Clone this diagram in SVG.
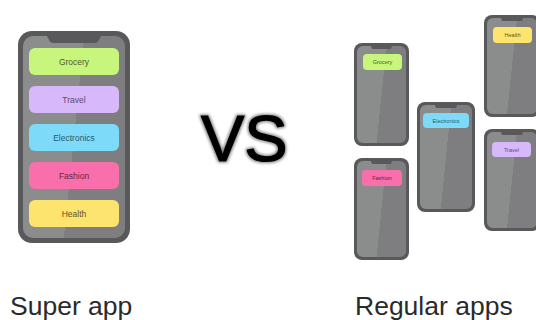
<svg xmlns="http://www.w3.org/2000/svg" width="536" height="320" viewBox="0 0 536 320">
<style>
.frame{fill:#59595b}
.screen{fill:url(#glare)}
.notch{fill:#59595b}
.lbl{font-family:"Liberation Sans",Arial,sans-serif;text-anchor:middle;dominant-baseline:central}
.big{font-size:8.5px}
.small{font-size:5.5px}
.grocery{fill:#c8f67c}
.travel{fill:#d6b8fb}
.electronics{fill:#7ddaf8}
.fashion{fill:#f86fab}
.health{fill:#fde46e}
.t-grocery{fill:#4b5a2d}
.t-travel{fill:#5a4a70}
.t-electronics{fill:#2a5a6e}
.t-fashion{fill:#6a2444}
.t-health{fill:#5e5424}
.caption{font-family:"Liberation Sans",Arial,sans-serif;font-size:26.5px;fill:#2a2a2a}
</style>
<defs>
<linearGradient id="glare" x1="0.3" y1="0.46" x2="0.7" y2="0.54">
<stop offset="0" stop-color="#8b8d8d"/>
<stop offset="0.5" stop-color="#8b8d8d"/>
<stop offset="0.5" stop-color="#7e7e81"/>
<stop offset="1" stop-color="#7e7e81"/>
</linearGradient>
<filter id="soft" x="-20%" y="-20%" width="140%" height="140%">
<feMorphology in="SourceAlpha" operator="dilate" radius="0.8" result="d"/>
<feGaussianBlur in="d" stdDeviation="1.8" result="b"/>
<feComponentTransfer in="b" result="c"><feFuncA type="linear" slope="0.5"/></feComponentTransfer>
<feMerge><feMergeNode in="c"/><feMergeNode in="SourceGraphic"/></feMerge>
</filter>
</defs>

<g id="super-phone">
<rect class="frame" x="18" y="31" width="112" height="212" rx="14"/>
<rect class="screen" x="23" y="36" width="102" height="202" rx="10"/>
<path class="notch" d="M47 36 H101 L99 40 Q98 43 94 43 H54 Q50 43 49 40 Z"/>
<rect class="grocery" x="29" y="48" width="90" height="27" rx="6"/>
<text class="lbl big t-grocery" x="74" y="61.5">Grocery</text>
<rect class="travel" x="29" y="86" width="90" height="27" rx="6"/>
<text class="lbl big t-travel" x="74" y="99.5">Travel</text>
<rect class="electronics" x="29" y="124" width="90" height="27" rx="6"/>
<text class="lbl big t-electronics" x="74" y="137.5">Electronics</text>
<rect class="fashion" x="29" y="162" width="90" height="27" rx="6"/>
<text class="lbl big t-fashion" x="74" y="175.5">Fashion</text>
<rect class="health" x="29" y="200" width="90" height="27" rx="6"/>
<text class="lbl big t-health" x="74" y="213.5">Health</text>
</g>

<g id="vs">
<text x="201" y="161" font-family="'Liberation Sans',Arial,sans-serif" font-size="65" fill="#000" stroke="#000" stroke-width="1.2" filter="url(#soft)">VS</text>
</g>

<g id="phone-grocery">
<rect class="frame" x="354" y="43" width="55" height="103" rx="8"/>
<rect class="screen" x="357" y="46" width="49" height="97" rx="6"/>
<path class="notch" d="M371 46 H392 L391 49 H372 Z"/>
<rect class="grocery" x="363" y="54" width="39" height="16" rx="4"/>
<text class="lbl small t-grocery" x="382.5" y="62">Grocery</text>
</g>

<g id="phone-fashion">
<rect class="frame" x="354" y="158" width="55" height="102" rx="8"/>
<rect class="screen" x="357" y="161" width="49" height="96" rx="6"/>
<path class="notch" d="M371 161 H392 L391 164 H372 Z"/>
<rect class="fashion" x="362" y="170" width="40" height="16" rx="4"/>
<text class="lbl small t-fashion" x="382" y="178">Fashion</text>
</g>

<g id="phone-electronics">
<rect class="frame" x="417" y="102" width="58" height="110" rx="8"/>
<rect class="screen" x="420" y="105" width="52" height="104" rx="6"/>
<path class="notch" d="M435 105 H457 L456 108 H436 Z"/>
<rect class="electronics" x="423" y="113" width="46" height="15" rx="4"/>
<text class="lbl small t-electronics" x="446" y="120.5">Electronics</text>
</g>

<g id="phone-health">
<rect class="frame" x="484" y="15" width="56" height="102" rx="8"/>
<rect class="screen" x="487" y="18" width="50" height="96" rx="6"/>
<path class="notch" d="M501 18 H523 L522 21 H502 Z"/>
<rect class="health" x="493" y="27" width="39" height="16" rx="4"/>
<text class="lbl small t-health" x="512.5" y="35">Health</text>
</g>

<g id="phone-travel">
<rect class="frame" x="484" y="129" width="56" height="102" rx="8"/>
<rect class="screen" x="487" y="132" width="50" height="96" rx="6"/>
<path class="notch" d="M501 132 H523 L522 135 H502 Z"/>
<rect class="travel" x="492" y="142" width="39" height="15" rx="4"/>
<text class="lbl small t-travel" x="511.5" y="149.5">Travel</text>
</g>

<g id="captions">
<text class="caption" x="10" y="315">Super app</text>
<text class="caption" x="355" y="315">Regular apps</text>
</g>
</svg>
